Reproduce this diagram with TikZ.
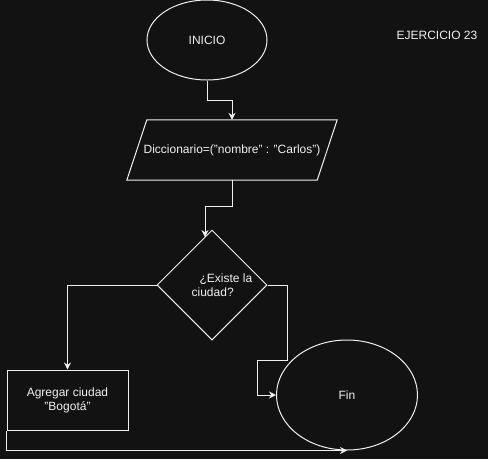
\documentclass[tikz,border=0pt]{standalone}
\usepackage{fontspec}
\setmainfont{Liberation Sans}
\usetikzlibrary{shapes.geometric,arrows.meta,calc}
\definecolor{bg}{HTML}{121212}
\definecolor{fg}{HTML}{F0F0F0}
\begin{document}
\begin{tikzpicture}[x=1pt,y=-1pt,
  every node/.style={text=fg,font=\fontsize{12}{14}\selectfont,inner sep=0pt},
  shp/.style={draw=fg,line width=1pt},
  arr/.style={draw=fg,line width=1pt,-{Stealth[length=7pt,width=7pt]}}]
\fill[bg] (0,0) rectangle (488,459);
\useasboundingbox (0,0) rectangle (488,459);
\node[shp,ellipse,minimum width=120pt,minimum height=80pt] (inicio) at (207,40) {INICIO};
\node[minimum width=210pt,minimum height=60pt] (dic) at (232,150) {Diccionario=("nombre" : "Carlos")};
\draw[shp] ($(dic.north west)+(20,0)$) -- (dic.north east) -- ($(dic.south east)+(-20,0)$) -- (dic.south west) -- cycle;
\node[shp,diamond,minimum width=110pt,minimum height=110pt] (dec) at (212,285) {};
\node[align=left] (dectxt) at (222,285) {\hspace{8pt}¿Existe la\\ciudad?};
\node[shp,rectangle,minimum width=121pt,minimum height=60pt,align=center] (agr) at (67.5,400) {Agregar ciudad\\"Bogotá"};
\node[shp,ellipse,minimum width=141pt,minimum height=110pt] (fin) at (347,395) {Fin};
\node (ej) at (437,35) {EJERCICIO 23};
\coordinate (decin) at (205,237);
\draw[arr] (inicio.south) -- ++(0,20) -| (dic.north);
\draw[arr] (dic.south) -- ++(0,26) -| (decin);
\draw[arr] (dec.west) -| (agr.north);
\draw[arr] (dec.east) -- ++(20,0) -- ++(0,75) -- ++(-30,0) |- (fin.west);
\draw[arr] (agr.south west) |- (fin.south);
\end{tikzpicture}
\end{document}
